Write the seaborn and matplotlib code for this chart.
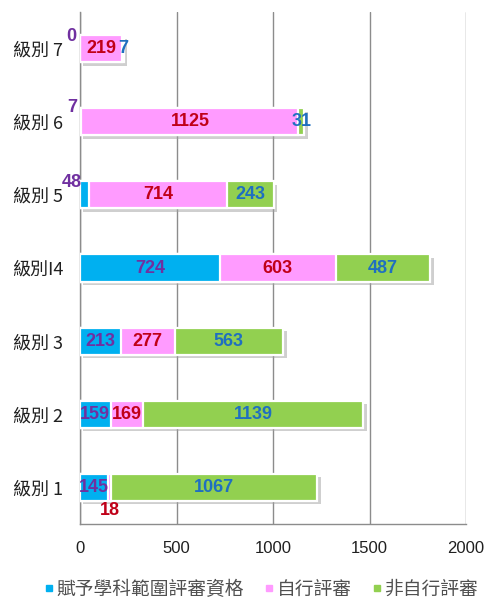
"""
Stacked horizontal bar chart — 級別 1-7 review status.
"""
import numpy as np
import pandas as pd
import matplotlib
matplotlib.use("Agg")
import matplotlib.pyplot as plt
import matplotlib.patheffects as pe
from matplotlib import font_manager
from matplotlib.lines import Line2D
from matplotlib.ticker import FixedLocator
import seaborn as sns

# ── Data ─────────────────────────────────────────────────────
categories = ["級別 7", "級別 6", "級別 5", "級別I4", "級別 3", "級別 2", "級別 1"]
series_names = ["賦予學科範圍評審資格", "自行評審", "非自行評審"]
granted = [0, 7, 48, 724, 213, 159, 145]
self_review = [219, 1125, 714, 603, 277, 169, 18]
non_self_review = [7, 31, 243, 487, 563, 1139, 1067]
x_ticks = [0, 500, 1000, 1500, 2000]

# ── Styling ──────────────────────────────────────────────────
COLORS = ["#00B0F0", "#FF9BFF", "#92D050"]
LABEL_COLORS = ["#7030A0", "#C00018", "#1F6FC0"]
GRID = "#8C8C8C"

sns.set_style("white")
plt.rcParams["font.family"] = ["Noto Sans CJK TC", "DejaVu Sans"]

installed = {f.name for f in font_manager.fontManager.ttflist}
TICK_FONT = "Liberation Sans" if "Liberation Sans" in installed else "DejaVu Sans"
if "Liberation Sans Narrow" in installed:
    VAL_FONT, VAL_SIZE = "Liberation Sans Narrow", 14.5
elif TICK_FONT == "Liberation Sans":
    VAL_FONT, VAL_SIZE = "Liberation Sans", 13
else:
    VAL_FONT, VAL_SIZE = "DejaVu Sans", 10.5

df = pd.DataFrame({
    "cat": categories,
    "g": granted,
    "s": self_review,
    "n": non_self_review,
})
df["c1"] = df["g"]
df["c2"] = df["g"] + df["s"]
df["c3"] = df["g"] + df["s"] + df["n"]

fig = plt.figure(figsize=(4.89, 6.05), dpi=100)
ax = fig.add_axes([0.1636, 0.134, 0.953 - 0.1636, 0.98 - 0.134])

bar_h = 0.37
layers = [("c3", COLORS[2]), ("c2", COLORS[1]), ("c1", COLORS[0])]
for i, (col, color) in enumerate(layers):
    sns.barplot(data=df, x=col, y="cat", order=categories, orient="h",
                color=color, saturation=1, width=bar_h, ax=ax,
                edgecolor="white", linewidth=1.6, zorder=3 + i)
    if i == 0:
        for p in ax.patches:
            p.set_path_effects([
                pe.SimplePatchShadow(offset=(2.5, -2.5), shadow_rgbFace="#a0a0a0", alpha=0.5),
                pe.Normal(),
            ])

# ── Value labels ─────────────────────────────────────────────
starts = [np.zeros(len(categories)), df["c1"].values, df["c2"].values]
values = [df["g"].values, df["s"].values, df["n"].values]
# offsets (points) for segments too thin to hold their label
offsets = {
    (0, 0): (-6, 9), (0, 1): (-6, 10), (0, 2): (-9, 9),
    (1, 6): (0, -17),
}
for k in range(3):
    for j in range(len(categories)):
        v = values[k][j]
        xc = starts[k][j] + v / 2
        dx, dy = offsets.get((k, j), (0, 0))
        ax.annotate(f"{v}", xy=(xc, j), xytext=(dx, dy), textcoords="offset points",
                    ha="center", va="center", fontsize=VAL_SIZE, fontweight="bold",
                    fontfamily=VAL_FONT, color=LABEL_COLORS[k], zorder=10)

# ── Axes ─────────────────────────────────────────────────────
ax.set_xlim(0, 2000)
ax.set_ylim(len(categories) - 0.5, -0.5)
ax.set_xticks(x_ticks)
ax.set_xticklabels([str(t) for t in x_ticks], fontsize=12, fontfamily=TICK_FONT, color="#202020")
ax.set_xlabel("")
ax.set_ylabel("")
ax.tick_params(axis="y", which="major", length=0, labelsize=13, pad=12, labelcolor="#202020")
ax.yaxis.set_minor_locator(FixedLocator(np.arange(-0.5, len(categories), 1.0)))
ax.tick_params(axis="y", which="minor", length=5, color=GRID, direction="out")
ax.tick_params(axis="x", length=6, color=GRID, direction="out", pad=6)
ax.grid(axis="x", color=GRID, linewidth=1, zorder=0)
ax.set_axisbelow(True)
for side in ["top", "right"]:
    ax.spines[side].set_visible(False)
for side in ["left", "bottom"]:
    ax.spines[side].set_color(GRID)
    ax.spines[side].set_linewidth(1)

handles = [Line2D([0], [0], marker="s", linestyle="", markersize=5,
                  markerfacecolor=c, markeredgecolor=c) for c in COLORS]
fig.legend(handles, series_names, loc="center", bbox_to_anchor=(0.534, 0.026),
           ncol=3, frameon=False, fontsize=13.5, handletextpad=0.15,
           columnspacing=1.1, handlelength=0.5, labelcolor="#505050")

plt.savefig("out.png", dpi=100, facecolor="white")
plt.close()
